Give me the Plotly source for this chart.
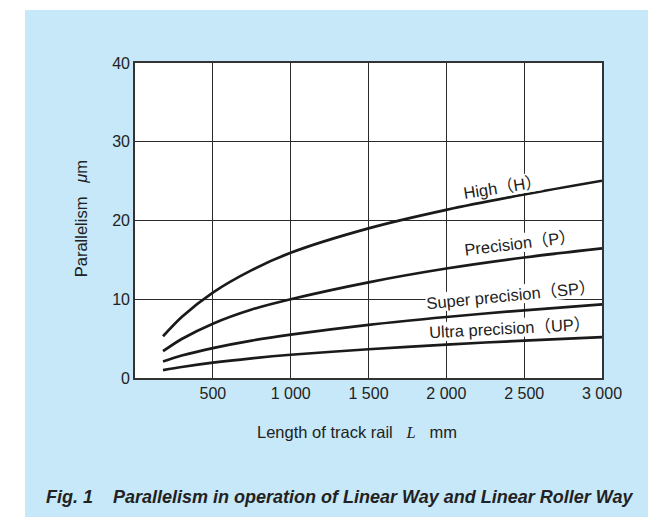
import plotly.graph_objects as go

# Data
L = [180, 300, 500, 750, 1000, 1500, 2000, 2500, 3000]
high = [5.3, 7.75, 10.85, 13.7, 15.9, 19.0, 21.35, 23.3, 25.05]
precision = [3.4, 4.95, 6.9, 8.7, 10.0, 12.15, 13.9, 15.3, 16.45]
super_precision = [2.1, 2.85, 3.8, 4.75, 5.5, 6.75, 7.75, 8.6, 9.35]
ultra_precision = [1.0, 1.4, 1.95, 2.5, 2.95, 3.65, 4.25, 4.75, 5.2]

series_names = ["High（H）", "Precision（P）", "Super precision（SP）", "Ultra precision（UP）"]
series_values = [high, precision, super_precision, ultra_precision]

x_ticks = [500, 1000, 1500, 2000, 2500, 3000]
x_ticktext = ["500", "1 000", "1 500", "2 000", "2 500", "3 000"]
y_ticks = [0, 10, 20, 30, 40]

# label placement (data coords) and rotation
label_pos = [(2360, 24.3, -9), (2470, 17.2, -7), (2416, 10.5, -5.6), (2406, 6.3, -3)]

FONT = "Liberation Sans, Arial, Noto Sans CJK JP, sans-serif"
BLUE = "#c6e8f8"
TXT = "#222"

fig = go.Figure()
for name, vals, (lx, ly, ang) in zip(series_names, series_values, label_pos):
    fig.add_trace(go.Scatter(x=L, y=vals, mode="lines", name=name,
                             line=dict(color="#1a1a1a", width=2.7, shape="spline", smoothing=0.8),
                             showlegend=False, hoverinfo="skip"))
    fig.add_annotation(x=lx, y=ly, xref="x", yref="y", text=name, showarrow=False,
                       textangle=ang, bgcolor="white", borderpad=0,
                       xanchor="center", yanchor="middle",
                       font=dict(family=FONT, size=16.5, color=TXT))

fig.add_annotation(xref="paper", yref="paper", x=-0.1156, y=0.504, text="Parallelism   <i>μ</i>m",
                   textangle=-90, showarrow=False, xanchor="center", yanchor="middle",
                   font=dict(family=FONT, size=16.5, color=TXT))
fig.add_annotation(xref="paper", yref="paper", x=0.476, y=-0.172,
                   text="Length of track rail   <i><span style='font-family:Liberation Serif'>L</span></i>   mm",
                   showarrow=False, xanchor="center", yanchor="middle",
                   font=dict(family=FONT, size=16.5, color=TXT))
fig.add_annotation(xref="paper", yref="paper", x=0.438, y=-0.379,
                   text="<b><i>Fig. 1    Parallelism in operation of Linear Way and Linear Roller Way</i></b>",
                   showarrow=False, xanchor="center", yanchor="middle",
                   font=dict(family=FONT, size=18, color=TXT))

# white strips outside the blue panel
fig.add_shape(type="rect", xref="paper", yref="paper", x0=-0.4, x1=-0.2355, y0=-0.6, y1=1.4,
              fillcolor="white", line_width=0, layer="below")
fig.add_shape(type="rect", xref="paper", yref="paper", x0=-0.4, x1=1.3, y0=1.168, y1=1.4,
              fillcolor="white", line_width=0, layer="below")

axis_common = dict(showgrid=True, gridcolor="#2a2a2a", gridwidth=1.2,
                   showline=True, linecolor="#333", linewidth=1.6, mirror=True,
                   ticks="", zeroline=False,
                   tickfont=dict(family=FONT, size=16, color=TXT))
fig.update_xaxes(range=[0, 3000], tickvals=x_ticks, ticktext=x_ticktext, **axis_common)
fig.update_yaxes(range=[0, 40], tickvals=y_ticks, **axis_common)

fig.update_layout(width=648, height=509, paper_bgcolor=BLUE, plot_bgcolor="white",
                  margin=dict(l=127, r=54, t=55, b=139, autoexpand=False))

fig.write_html("out.html")
